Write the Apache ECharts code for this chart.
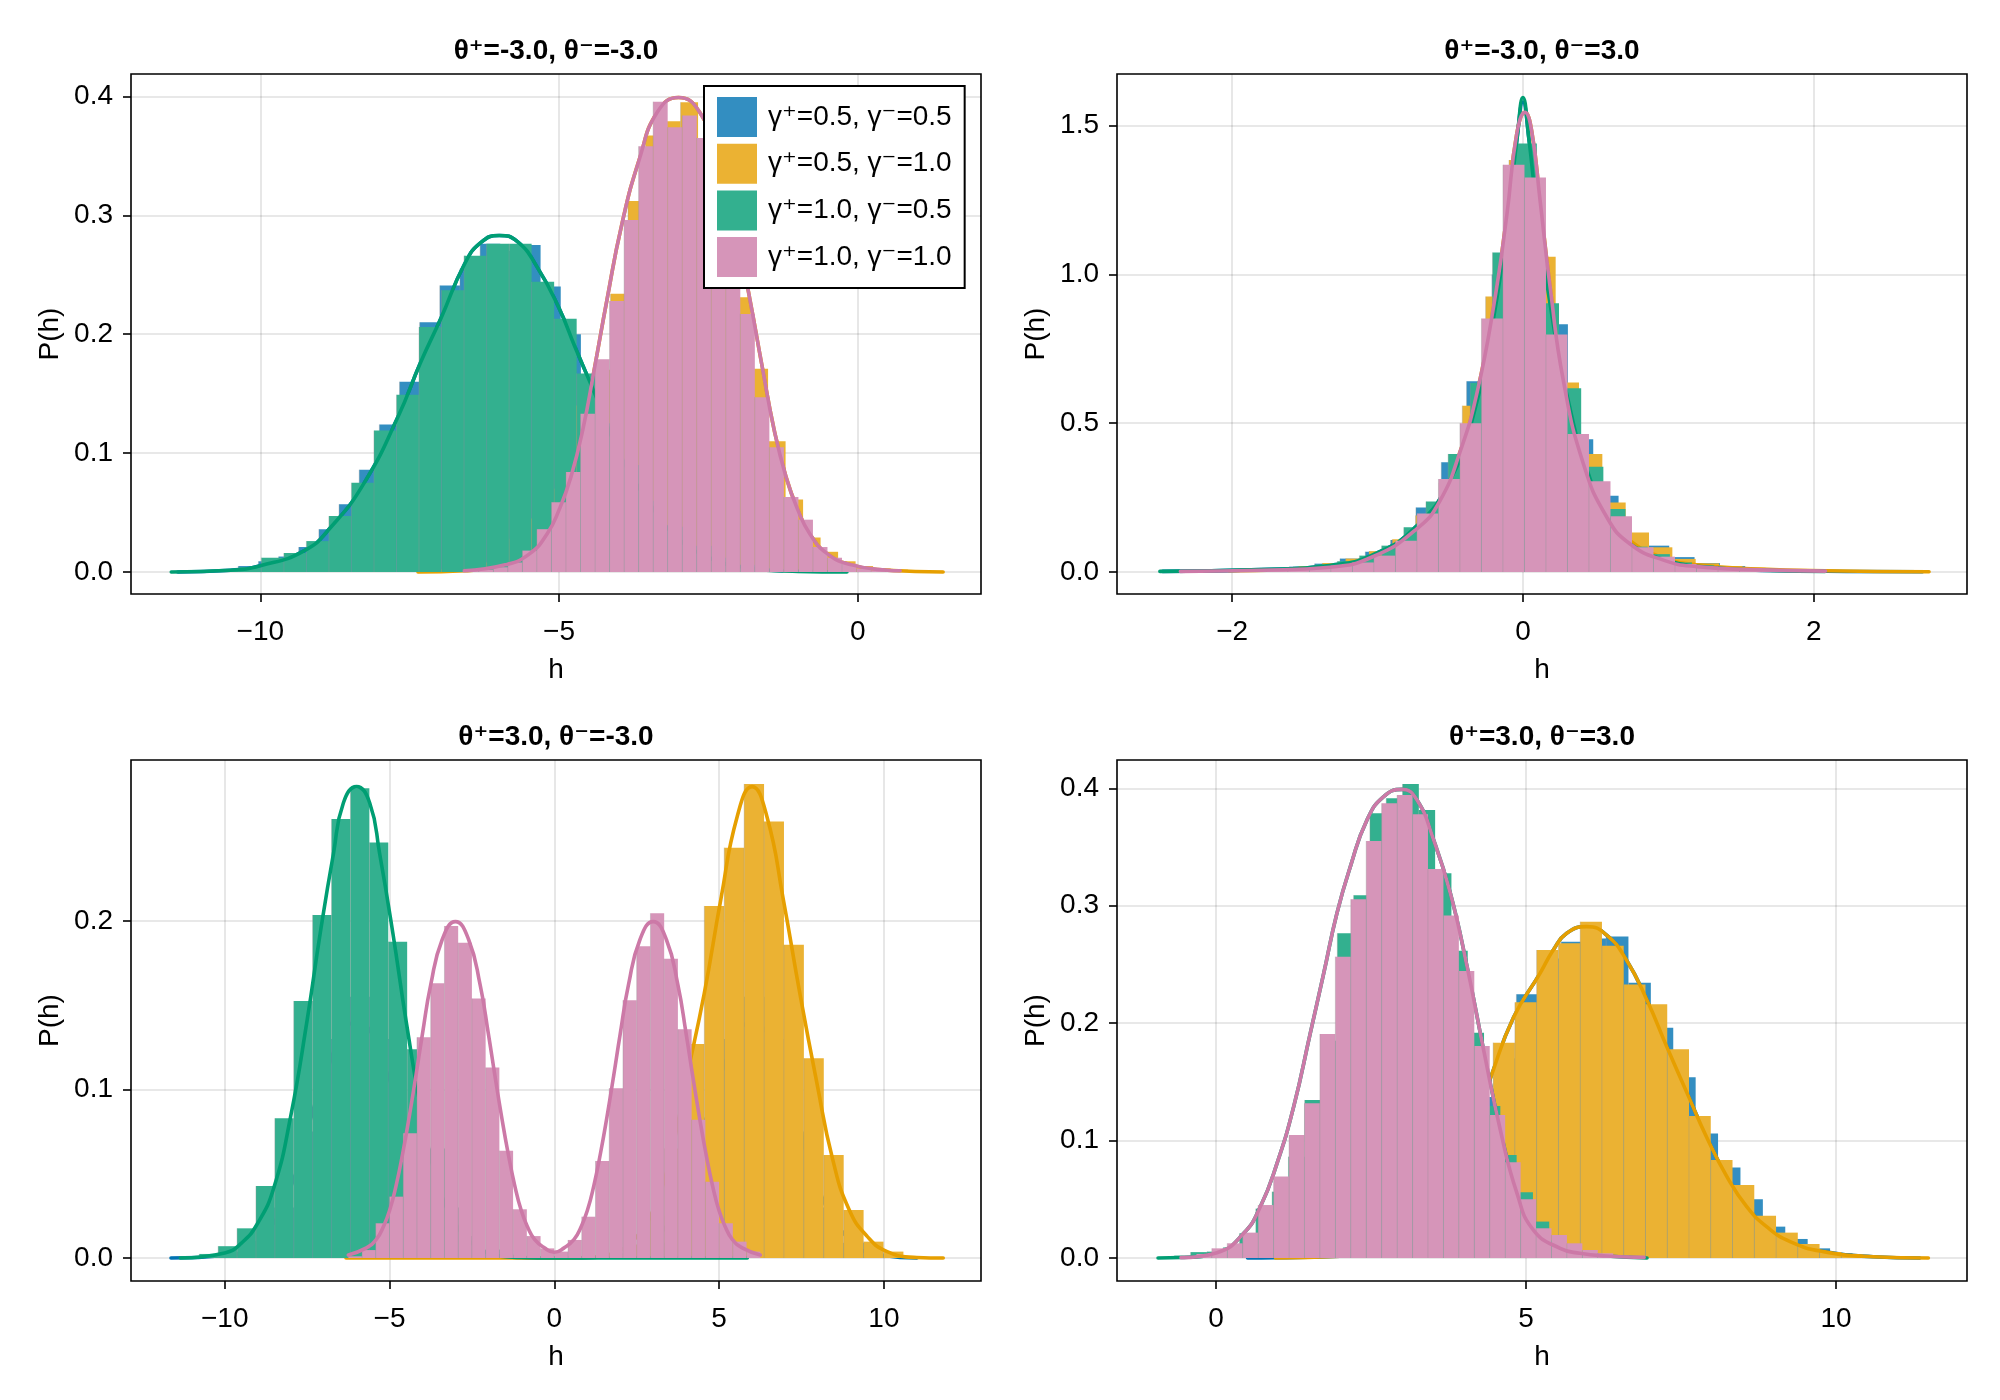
<!DOCTYPE html>
<html>
<head>
<meta charset="utf-8">
<script src="https://cdn.jsdelivr.net/npm/echarts@6/dist/echarts.min.js"></script>
<style>
html, body { margin: 0; padding: 0; background: #fff; }
#chart { width: 2000px; height: 1400px; }
</style>
</head>
<body>
<div id="chart"></div>
<script>
// labels
const panelTitles = ['θ⁺=-3.0, θ⁻=-3.0', 'θ⁺=-3.0, θ⁻=3.0', 'θ⁺=3.0, θ⁻=-3.0', 'θ⁺=3.0, θ⁻=3.0'];
const seriesLabels = ['γ⁺=0.5, γ⁻=0.5', 'γ⁺=0.5, γ⁻=1.0', 'γ⁺=1.0, γ⁻=0.5', 'γ⁺=1.0, γ⁻=1.0'];

// tick values per panel
const tlXTicks = [-10, -5, 0];
const tlYTicks = [0, 0.1, 0.2, 0.3, 0.4];
const trXTicks = [-2, 0, 2];
const trYTicks = [0, 0.5, 1.0, 1.5];
const blXTicks = [-10, -5, 0, 5, 10];
const blYTicks = [0, 0.1, 0.2];
const brXTicks = [0, 5, 10];
const brYTicks = [0, 0.1, 0.2, 0.3, 0.4];

// histograms: [min, max] of the samples (30 equal bins) and bin densities
// top left: θ+=-3, θ-=-3
const tlBlueRange = [-11.38, -1.26];
const tlBlueHeights = [0.0006, 0.001, 0.002, 0.005, 0.009, 0.013, 0.021, 0.036, 0.057, 0.086, 0.124, 0.160, 0.210, 0.241, 0.255, 0.276, 0.270, 0.275, 0.240, 0.200, 0.150, 0.110, 0.075, 0.045, 0.025, 0.013, 0.006, 0.003, 0.0015, 0.0007];
const tlOrangeRange = [-7.36, 1.43];
const tlOrangeHeights = [0.001, 0.002, 0.004, 0.008, 0.015, 0.028, 0.045, 0.070, 0.100, 0.140, 0.170, 0.234, 0.312, 0.367, 0.379, 0.395, 0.360, 0.310, 0.231, 0.171, 0.110, 0.061, 0.029, 0.017, 0.009, 0.005, 0.003, 0.002, 0.001, 0.001];
const tlGreenRange = [-11.49, -0.18];
const tlGreenHeights = [0.0008, 0.001, 0.002, 0.004, 0.012, 0.016, 0.026, 0.047, 0.075, 0.119, 0.149, 0.206, 0.237, 0.266, 0.276, 0.276, 0.244, 0.213, 0.167, 0.125, 0.090, 0.060, 0.038, 0.022, 0.012, 0.006, 0.003, 0.0015, 0.0008, 0.0005];
const tlPinkRange = [-6.585, 0.71];
const tlPinkHeights = [0.001, 0.002, 0.004, 0.008, 0.018, 0.036, 0.0586, 0.084, 0.133, 0.179, 0.228, 0.296, 0.358, 0.3955, 0.374, 0.384, 0.365, 0.330, 0.290, 0.217, 0.147, 0.105, 0.063, 0.044, 0.021, 0.012, 0.007, 0.003, 0.0015, 0.0008];

// top right: θ+=-3, θ-=3
const trBlueRange = [-2.478, 2.748];
const trBlueHeights = [0.002, 0.003, 0.005, 0.008, 0.012, 0.018, 0.028, 0.045, 0.068, 0.1075, 0.217, 0.3685, 0.641, 1.0, 1.3, 0.833, 0.446, 0.2565, 0.12, 0.0885, 0.05, 0.03, 0.02, 0.012, 0.008, 0.005, 0.003, 0.002, 0.001, 0.001];
const trOrangeRange = [-2.022, 2.793];
const trOrangeHeights = [0.004, 0.007, 0.012, 0.02, 0.03, 0.045, 0.07, 0.11, 0.19, 0.30, 0.559, 0.926, 1.385, 1.06, 0.637, 0.397, 0.234, 0.133, 0.083, 0.044, 0.029, 0.02, 0.014, 0.01, 0.007, 0.005, 0.004, 0.003, 0.002, 0.002];
const trGreenRange = [-2.497, 2.078];
const trGreenHeights = [0.001, 0.002, 0.003, 0.005, 0.008, 0.012, 0.018, 0.025, 0.036, 0.055, 0.0885, 0.15, 0.237, 0.397, 0.635, 1.074, 1.44, 0.903, 0.618, 0.354, 0.212, 0.085, 0.06, 0.032, 0.022, 0.013, 0.009, 0.006, 0.004, 0.002];
const trPinkRange = [-2.356, 2.081];
const trPinkHeights = [0.002, 0.003, 0.004, 0.006, 0.008, 0.011, 0.015, 0.021, 0.032, 0.055, 0.105, 0.197, 0.3125, 0.50, 0.852, 1.369, 1.326, 0.798, 0.464, 0.305, 0.187, 0.083, 0.0515, 0.027, 0.018, 0.012, 0.009, 0.006, 0.004, 0.003];

// bottom left: θ+=3, θ-=-3
const blBlueRange = [-11.63, 11.0];
const blBlueHeights = [0.0003, 0.0005, 0.002, 0.009, 0.03, 0.075, 0.13, 0.155, 0.13, 0.075, 0.03, 0.009, 0.002, 0.0005, 0.0002, 0.0002, 0.0002, 0.0005, 0.002, 0.009, 0.03, 0.075, 0.13, 0.155, 0.13, 0.075, 0.03, 0.009, 0.002, 0.0005];
const blOrangeRange = [-6.32, 11.8];
const blOrangeHeights = [0.0001, 0, 0, 0.0001, 0, 0, 0.0001, 0, 0.0001, 0.0001, 0.0002, 0.0004, 0.0008, 0.002, 0.008, 0.025, 0.065, 0.127, 0.2089, 0.2435, 0.2813, 0.259, 0.1858, 0.1185, 0.0611, 0.0285, 0.0097, 0.0038, 0.0012, 0.0005];
const blGreenRange = [-11.345, 5.857];
const blGreenHeights = [0.001, 0.0024, 0.007, 0.0176, 0.0427, 0.0829, 0.1525, 0.2036, 0.2605, 0.2787, 0.2465, 0.1877, 0.1238, 0.065, 0.03, 0.013, 0.005, 0.002, 0.001, 0.0004, 0.0002, 0.0001, 0, 0, 0.0001, 0, 0, 0, 0.0001, 0.0001];
const blPinkRange = [-6.25, 6.25];
const blPinkHeights = [0.001, 0.0047, 0.0206, 0.0364, 0.074, 0.131, 0.163, 0.197, 0.187, 0.154, 0.113, 0.0637, 0.0289, 0.013, 0.0057, 0.0038, 0.0107, 0.0245, 0.0576, 0.1007, 0.153, 0.185, 0.2045, 0.1775, 0.1357, 0.082, 0.0453, 0.0206, 0.0097, 0.0038];

// bottom right: θ+=3, θ-=3
const brBlueRange = [0.509, 11.35];
const brBlueHeights = [0.0003, 0.0004, 0.0008, 0.0015, 0.003, 0.007, 0.014, 0.028, 0.05, 0.08, 0.137, 0.17, 0.2246, 0.255, 0.2694, 0.272, 0.2737, 0.2345, 0.196, 0.154, 0.106, 0.077, 0.05, 0.0267, 0.0162, 0.0082, 0.004, 0.002, 0.001, 0.0005];
const brOrangeRange = [0.96, 11.49];
const brOrangeHeights = [0.0004, 0.0008, 0.0015, 0.003, 0.007, 0.015, 0.03, 0.055, 0.085, 0.12, 0.1834, 0.2177, 0.2623, 0.268, 0.2864, 0.266, 0.233, 0.216, 0.1777, 0.121, 0.0835, 0.0622, 0.036, 0.0216, 0.0119, 0.0051, 0.0028, 0.0015, 0.0008, 0.0005];
const brGreenRange = [-0.935, 6.952];
const brGreenHeights = [0.0008, 0.002, 0.005, 0.0054, 0.009, 0.021, 0.042, 0.0565, 0.0863, 0.1346, 0.185, 0.2765, 0.309, 0.3787, 0.3915, 0.4037, 0.3815, 0.3276, 0.2617, 0.1919, 0.1295, 0.0877, 0.0559, 0.031, 0.015, 0.008, 0.004, 0.002, 0.001, 0.0005];
const brPinkRange = [-0.565, 6.905];
const brPinkHeights = [0.001, 0.0034, 0.0082, 0.0125, 0.0216, 0.0451, 0.0693, 0.1048, 0.1317, 0.1908, 0.2566, 0.3055, 0.3551, 0.3872, 0.3943, 0.3779, 0.3313, 0.2916, 0.2444, 0.1806, 0.1218, 0.0815, 0.05, 0.0253, 0.0196, 0.0125, 0.0068, 0.004, 0.002, 0.001];

// density curves [h, P(h)]
const tlBlueCurve = [[-11.38, 0.0], [-10.5, 0.0015], [-10.0, 0.0053], [-9.26, 0.018], [-8.82, 0.0376], [-8.26, 0.075], [-7.70, 0.13], [-7.31, 0.177], [-6.97, 0.214], [-6.58, 0.259], [-6.31, 0.277], [-6.0, 0.283], [-5.7, 0.278], [-5.36, 0.256], [-5.0, 0.222], [-4.73, 0.189], [-4.40, 0.150], [-4.0, 0.101], [-3.5, 0.059], [-3.0, 0.028], [-2.5, 0.0124], [-2.0, 0.0048], [-1.26, 0.001]];
const tlOrangeCurve = [[-7.36, 0.0], [-6.585, 0.001], [-5.9, 0.006], [-5.5, 0.015], [-5.2, 0.032], [-5.0, 0.052], [-4.8, 0.080], [-4.6, 0.120], [-4.4, 0.173], [-4.2, 0.228], [-3.95, 0.292], [-3.65, 0.348], [-3.35, 0.387], [-3.0, 0.399], [-2.65, 0.387], [-2.35, 0.348], [-2.05, 0.292], [-1.8, 0.228], [-1.6, 0.173], [-1.4, 0.120], [-1.2, 0.080], [-1.0, 0.052], [-0.8, 0.032], [-0.5, 0.015], [-0.1, 0.006], [0.5, 0.0015], [1.43, 0.0]];
const tlGreenCurve = [[-11.49, 0.0], [-10.5, 0.0015], [-10.0, 0.0053], [-9.26, 0.018], [-8.82, 0.0376], [-8.26, 0.075], [-7.70, 0.13], [-7.31, 0.177], [-6.97, 0.214], [-6.58, 0.259], [-6.31, 0.277], [-6.0, 0.283], [-5.7, 0.278], [-5.36, 0.256], [-5.0, 0.222], [-4.73, 0.189], [-4.40, 0.150], [-4.0, 0.101], [-3.5, 0.059], [-3.0, 0.028], [-2.5, 0.0124], [-2.0, 0.0048], [-1.0, 0.0005], [-0.18, 0.0]];
const tlPinkCurve = [[-6.585, 0.001], [-5.9, 0.006], [-5.5, 0.015], [-5.2, 0.032], [-5.0, 0.052], [-4.8, 0.080], [-4.6, 0.120], [-4.4, 0.173], [-4.2, 0.228], [-3.95, 0.292], [-3.65, 0.348], [-3.35, 0.387], [-3.0, 0.399], [-2.65, 0.387], [-2.35, 0.348], [-2.05, 0.292], [-1.8, 0.228], [-1.6, 0.173], [-1.4, 0.120], [-1.2, 0.080], [-1.0, 0.052], [-0.8, 0.032], [-0.5, 0.015], [-0.1, 0.006], [0.5, 0.0015], [0.71, 0.001]];

const trBlueCurve = [[-2.478, 0.002], [-1.8, 0.008], [-1.33, 0.022], [-1.03, 0.058], [-0.73, 0.155], [-0.5, 0.31], [-0.35, 0.51], [-0.2, 0.86], [-0.1, 1.21], [-0.04, 1.46], [0.0, 1.58], [0.04, 1.46], [0.1, 1.2], [0.2, 0.86], [0.3, 0.6], [0.45, 0.33], [0.6, 0.17], [0.75, 0.09], [1.0, 0.038], [1.3, 0.015], [1.7, 0.005], [2.748, 0.001]];
const trOrangeCurve = [[-2.022, 0.004], [-1.327, 0.016], [-1.029, 0.052], [-0.73, 0.145], [-0.57, 0.24], [-0.43, 0.408], [-0.318, 0.598], [-0.203, 0.889], [-0.11, 1.203], [-0.043, 1.472], [0.014, 1.545], [0.060, 1.483], [0.118, 1.248], [0.187, 0.957], [0.278, 0.643], [0.416, 0.37], [0.577, 0.195], [0.737, 0.105], [0.966, 0.048], [1.195, 0.024], [1.63, 0.01], [2.08, 0.004], [2.793, 0.001]];
const trGreenCurve = [[-2.497, 0.002], [-1.8, 0.008], [-1.33, 0.022], [-1.03, 0.058], [-0.73, 0.155], [-0.5, 0.31], [-0.35, 0.51], [-0.2, 0.86], [-0.1, 1.21], [-0.04, 1.46], [0.0, 1.595], [0.04, 1.46], [0.1, 1.2], [0.2, 0.86], [0.3, 0.6], [0.45, 0.33], [0.6, 0.17], [0.75, 0.09], [1.0, 0.038], [1.3, 0.015], [1.7, 0.005], [2.078, 0.002]];
const trPinkCurve = [[-2.356, 0.002], [-1.8, 0.006], [-1.327, 0.016], [-1.029, 0.052], [-0.73, 0.145], [-0.57, 0.24], [-0.43, 0.408], [-0.318, 0.598], [-0.203, 0.889], [-0.11, 1.203], [-0.043, 1.472], [0.014, 1.545], [0.060, 1.483], [0.118, 1.248], [0.187, 0.957], [0.278, 0.643], [0.416, 0.363], [0.577, 0.184], [0.737, 0.094], [0.966, 0.040], [1.195, 0.018], [1.63, 0.007], [2.081, 0.003]];

const blBlueCurve = [[-11.63, 0.0], [-10.0, 0.0015], [-9.0, 0.01], [-8.0, 0.042], [-7.0, 0.106], [-6.0, 0.14], [-5.0, 0.106], [-4.0, 0.042], [-3.0, 0.01], [-2.0, 0.0015], [0.0, 0.0], [2.0, 0.0015], [3.0, 0.01], [4.0, 0.042], [5.0, 0.106], [6.0, 0.14], [7.0, 0.106], [8.0, 0.042], [9.0, 0.01], [10.0, 0.0015], [11.0, 0.0]];
const blOrangeCurve = [[-6.32, 0.0], [0.0, 0.0], [1.0, 0.0003], [1.9, 0.0038], [2.5, 0.0127], [3.0, 0.0285], [3.5, 0.0582], [4.0, 0.1056], [4.55, 0.157], [5.05, 0.2125], [5.55, 0.262], [6.0, 0.2797], [6.45, 0.262], [6.95, 0.2125], [7.45, 0.157], [7.95, 0.1056], [8.45, 0.0582], [8.95, 0.0285], [9.5, 0.0127], [10.1, 0.0038], [11.0, 0.0003], [11.8, 0.0]];
const blGreenCurve = [[-11.345, 0.0], [-10.0, 0.003], [-9.5, 0.0087], [-9.0, 0.0206], [-8.5, 0.0423], [-8.0, 0.0839], [-7.5, 0.141], [-7.1, 0.193], [-6.7, 0.24], [-6.4, 0.27], [-6.0, 0.2797], [-5.6, 0.27], [-5.3, 0.24], [-4.9, 0.193], [-4.5, 0.141], [-4.0, 0.0839], [-3.5, 0.0423], [-3.0, 0.0206], [-2.5, 0.0087], [-2.0, 0.003], [-1.0, 0.0003], [0.0, 0.0], [5.857, 0.0]];
const blPinkCurve = [[-6.25, 0.0018], [-5.7, 0.006], [-5.4, 0.011], [-5.2, 0.018], [-5.0, 0.028], [-4.8, 0.043], [-4.6, 0.062], [-4.4, 0.084], [-4.2, 0.108], [-4.0, 0.133], [-3.75, 0.162], [-3.4, 0.189], [-3.0, 0.1996], [-2.6, 0.189], [-2.25, 0.162], [-2.0, 0.133], [-1.8, 0.108], [-1.6, 0.084], [-1.4, 0.062], [-1.2, 0.043], [-1.0, 0.028], [-0.8, 0.018], [-0.6, 0.011], [-0.3, 0.006], [0.0, 0.0034], [0.3, 0.006], [0.6, 0.011], [0.8, 0.018], [1.0, 0.028], [1.2, 0.043], [1.4, 0.062], [1.6, 0.084], [1.8, 0.108], [2.0, 0.133], [2.25, 0.162], [2.6, 0.189], [3.0, 0.1996], [3.4, 0.189], [3.75, 0.162], [4.0, 0.133], [4.2, 0.108], [4.4, 0.084], [4.6, 0.062], [4.8, 0.043], [5.0, 0.028], [5.2, 0.018], [5.4, 0.011], [5.7, 0.006], [6.25, 0.0018]];

const brBlueCurve = [[0.509, 0.0], [0.96, 0.0002], [2.0, 0.0015], [2.5, 0.006], [3.0, 0.018], [3.5, 0.045], [4.0, 0.09], [4.425, 0.153], [4.8, 0.205], [5.226, 0.2424], [5.44, 0.2623], [5.656, 0.2765], [5.98, 0.2822], [6.3, 0.275], [6.62, 0.2538], [6.95, 0.2197], [7.27, 0.18], [7.6, 0.1402], [7.91, 0.1033], [8.24, 0.0693], [8.56, 0.0437], [8.88, 0.0267], [9.26, 0.0139], [9.8, 0.0054], [10.6, 0.0011], [11.35, 0.0]];
const brOrangeCurve = [[0.96, 0.0], [2.0, 0.0015], [2.5, 0.006], [3.0, 0.018], [3.5, 0.045], [4.0, 0.09], [4.425, 0.153], [4.8, 0.205], [5.226, 0.2424], [5.44, 0.2623], [5.656, 0.2765], [5.98, 0.2822], [6.3, 0.275], [6.62, 0.2538], [6.95, 0.2197], [7.27, 0.18], [7.6, 0.1402], [7.91, 0.1033], [8.24, 0.0693], [8.56, 0.0437], [8.88, 0.0267], [9.26, 0.0139], [9.8, 0.0054], [10.6, 0.0011], [11.49, 0.0]];
const brGreenCurve = [[-0.935, 0.0], [-0.565, 0.0004], [0.016, 0.0045], [0.446, 0.021], [0.715, 0.0437], [0.984, 0.0806], [1.253, 0.1289], [1.52, 0.1913], [1.737, 0.2424], [1.95, 0.2935], [2.167, 0.3333], [2.435, 0.373], [2.704, 0.3929], [3.0, 0.3991], [3.242, 0.39], [3.51, 0.356], [3.78, 0.3106], [4.05, 0.2481], [4.317, 0.177], [4.586, 0.109], [4.855, 0.055], [5.12, 0.0238], [5.55, 0.0082], [5.87, 0.004], [6.3, 0.0017], [6.952, 0.0]];
const brPinkCurve = [[-0.565, 0.0003], [0.016, 0.0045], [0.446, 0.021], [0.715, 0.0437], [0.984, 0.0806], [1.253, 0.1289], [1.52, 0.1913], [1.737, 0.2424], [1.95, 0.2935], [2.167, 0.3333], [2.435, 0.373], [2.704, 0.3929], [3.0, 0.3991], [3.242, 0.39], [3.51, 0.356], [3.78, 0.3106], [4.05, 0.2481], [4.317, 0.177], [4.586, 0.109], [4.855, 0.055], [5.12, 0.0238], [5.55, 0.0082], [5.87, 0.004], [6.3, 0.0017], [6.905, 0.0005]];

// ---- styling / layout ----
const FONT = '"Liberation Sans", Arial, "DejaVu Sans", sans-serif';
const FS = 28;
const histColors = ['#338ec1', '#ebb233', '#33b08f', '#d695b9'];
const lineColors = ['#0072b2', '#e69f00', '#009e73', '#cc79a7'];

const gridRects = [
    { left: 131, top: 74, width: 850, height: 520 },
    { left: 1117, top: 74, width: 850, height: 520 },
    { left: 131, top: 760, width: 850, height: 521 },
    { left: 1117, top: 760, width: 850, height: 521 }
];
const xLimits = [[-12.164, 2.064], [-2.792, 3.054], [-12.843, 12.946], [-1.597, 12.113]];
const yLimits = [[-0.0185, 0.4188], [-0.074, 1.674], [-0.01365, 0.2955], [-0.0196, 0.4241]];
const xTicks = [tlXTicks, trXTicks, blXTicks, brXTicks];
const yTicks = [tlYTicks, trYTicks, blYTicks, brYTicks];

const hists = [
    [[tlBlueRange, tlBlueHeights], [tlOrangeRange, tlOrangeHeights], [tlGreenRange, tlGreenHeights], [tlPinkRange, tlPinkHeights]],
    [[trBlueRange, trBlueHeights], [trOrangeRange, trOrangeHeights], [trGreenRange, trGreenHeights], [trPinkRange, trPinkHeights]],
    [[blBlueRange, blBlueHeights], [blOrangeRange, blOrangeHeights], [blGreenRange, blGreenHeights], [blPinkRange, blPinkHeights]],
    [[brBlueRange, brBlueHeights], [brOrangeRange, brOrangeHeights], [brGreenRange, brGreenHeights], [brPinkRange, brPinkHeights]]
];
const curves = [
    [tlBlueCurve, tlOrangeCurve, tlGreenCurve, tlPinkCurve],
    [trBlueCurve, trOrangeCurve, trGreenCurve, trPinkCurve],
    [blBlueCurve, blOrangeCurve, blGreenCurve, blPinkCurve],
    [brBlueCurve, brOrangeCurve, brGreenCurve, brPinkCurve]
];

const fmtX = v => (v < 0 ? '\u2212' : '') + Math.abs(v);
const fmtY = v => v.toFixed(1);

function histSeries(p, s, range, heights) {
    const w = (range[1] - range[0]) / heights.length;
    const data = heights.map((h, k) => [range[0] + k * w, range[0] + (k + 1) * w, h]);
    const color = histColors[s];
    return {
        type: 'custom',
        name: seriesLabels[s],
        xAxisIndex: p,
        yAxisIndex: p,
        z: 2 + s * 2,
        silent: true,
        itemStyle: { color: color },
        encode: { x: [0, 1], y: 2 },
        renderItem: function (params, api) {
            const a = api.coord([api.value(0), api.value(2)]);
            const b = api.coord([api.value(1), 0]);
            return {
                type: 'group',
                children: [
                    { type: 'rect', shape: { x: a[0], y: a[1], width: b[0] - a[0], height: b[1] - a[1] }, style: { fill: color } },
                    { type: 'line', shape: { x1: a[0], y1: a[1], x2: a[0], y2: b[1] }, style: { stroke: 'rgba(150,150,150,0.35)', lineWidth: 1 } }
                ]
            };
        },
        data: data
    };
}

function curveSeries(p, s, pts) {
    return {
        type: 'line',
        name: 'density ' + p + '-' + s,
        xAxisIndex: p,
        yAxisIndex: p,
        z: 3 + s * 2,
        silent: true,
        smooth: 0.5,
        showSymbol: false,
        symbol: 'none',
        lineStyle: { color: lineColors[s], width: 3.6, cap: 'round', join: 'round' },
        data: pts
    };
}

const series = [];
for (let p = 0; p < 4; p++) {
    for (let s = 0; s < 4; s++) {
        series.push(histSeries(p, s, hists[p][s][0], hists[p][s][1]));
        series.push(curveSeries(p, s, curves[p][s]));
    }
}

const chart = echarts.init(document.getElementById('chart'), null, { renderer: 'canvas' });
chart.setOption({
    animation: false,
    backgroundColor: '#fff',
    grid: gridRects.map(r => Object.assign({
        show: true, borderColor: '#000', borderWidth: 1.6, backgroundColor: 'transparent',
        containLabel: false, outerBoundsMode: 'none'
    }, r)),
    xAxis: gridRects.map((r, i) => ({
        type: 'value', gridIndex: i, position: 'bottom', min: xLimits[i][0], max: xLimits[i][1],
        axisLine: { show: false, onZero: false },
        axisTick: { show: true, inside: false, length: 8, customValues: xTicks[i], lineStyle: { color: '#000', width: 1.6 } },
        axisLabel: { customValues: xTicks[i], formatter: fmtX, fontSize: FS, fontFamily: FONT, color: '#000', margin: 24 },
        splitLine: { show: true, lineStyle: { color: 'rgba(0,0,0,0.12)', width: 1.6 } },
        name: 'h', nameLocation: 'middle', nameGap: 62,
        nameTextStyle: { fontSize: FS, fontFamily: FONT, color: '#000' }
    })),
    yAxis: gridRects.map((r, i) => ({
        type: 'value', gridIndex: i, position: 'left', min: yLimits[i][0], max: yLimits[i][1],
        axisLine: { show: false, onZero: false },
        axisTick: { show: true, inside: false, length: 8, customValues: yTicks[i], lineStyle: { color: '#000', width: 1.6 } },
        axisLabel: { customValues: yTicks[i], formatter: fmtY, fontSize: FS, fontFamily: FONT, color: '#000', margin: 18 },
        splitLine: { show: true, lineStyle: { color: 'rgba(0,0,0,0.12)', width: 1.6 } },
        name: 'P(h)', nameLocation: 'middle', nameGap: 67,
        nameTextStyle: { fontSize: FS, fontFamily: FONT, color: '#000' }
    })),
    legend: {
        data: seriesLabels,
        orient: 'vertical',
        left: 704,
        top: 86,
        z: 30,
        icon: 'rect',
        itemWidth: 40,
        itemHeight: 40,
        itemGap: 6.7,
        selectedMode: false,
        backgroundColor: '#fff',
        borderColor: '#000',
        borderWidth: 2,
        borderRadius: 0,
        padding: [11, 13, 11, 13],
        textStyle: { fontSize: FS, fontFamily: FONT, color: '#000', padding: [0, 0, 0, 6] }
    },
    graphic: panelTitles.map((t, i) => ({
        type: 'text',
        x: gridRects[i].left + gridRects[i].width / 2,
        y: gridRects[i].top - 23,
        style: { text: t, fontSize: FS, fontWeight: 'bold', fontFamily: FONT, fill: '#000', align: 'center', verticalAlign: 'middle' }
    })),
    series: series
});
</script>
</body>
</html>
